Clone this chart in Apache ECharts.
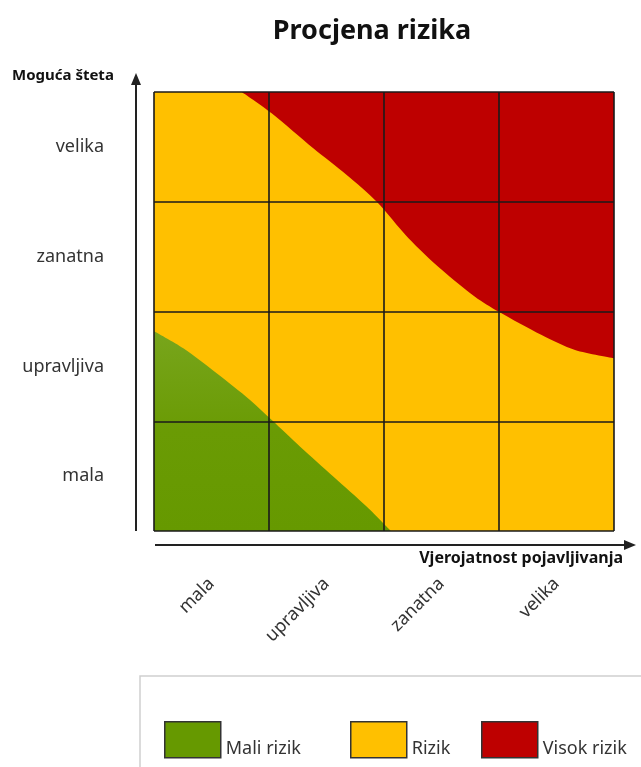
<!DOCTYPE html>
<html>
<head>
<meta charset="utf-8">
<script src="https://cdn.jsdelivr.net/npm/echarts@6/dist/echarts.min.js"></script>
<style>
html,body{margin:0;padding:0;background:#fff;}
#chart{width:641px;height:767px;}
</style>
</head>
<body>
<div id="chart"></div>
<script>
// ---- data ----
const xLabels = ['mala', 'upravljiva', 'zanatna', 'velika'];
const yLabels = ['mala', 'upravljiva', 'zanatna', 'velika'];
const titleText = 'Procjena rizika';
const xName = 'Vjerojatnost pojavljivanja';
const yName = 'Moguća šteta';
const legendNames = ['Mali rizik', 'Rizik', 'Visok rizik'];
// boundary of the low-risk (green) zone, area below the curve
const lowRiskCurve = [[0, 1.82], [0.255, 1.665], [0.545, 1.437], [0.835, 1.194], [1.024, 1.011], [1.271, 0.768], [1.561, 0.495], [1.851, 0.221], [2.06, 0]];
// boundary of the high-risk (red) zone, area above the curve
const highRiskCurve = [[0.763, 4], [1.023, 3.806], [1.385, 3.487], [1.676, 3.244], [1.937, 3.0], [2.211, 2.67], [2.502, 2.38], [2.791, 2.135], [2.994, 2.0], [3.371, 1.786], [3.661, 1.65], [4, 1.575]];
// whole matrix (risk / yellow zone)
const fullArea = [[0, 4], [4, 4]];

const GREEN = '#669900', YELLOW = '#FFC000', RED = '#BE0000';
const FONT = 'Noto Sans';

const chart = echarts.init(document.getElementById('chart'), null, {renderer: 'canvas'});

const legendLeft = [164, 350, 481];
const legendColors = [GREEN, YELLOW, RED];

const option = {
  backgroundColor: '#fff',
  animation: false,
  textStyle: {fontFamily: FONT},
  grid: {left: 154, right: 27, top: 92, bottom: 236, containLabel: false},
  xAxis: [
    {type: 'value', min: 0, max: 4, interval: 1, z: 5,
     axisLabel: {show: false}, axisTick: {show: false}, axisLine: {show: false},
     splitLine: {show: true, lineStyle: {color: '#1a1a1a', width: 1.6}}},
    {type: 'category', data: xLabels, position: 'bottom', z: 5,
     axisLine: {show: false}, axisTick: {show: false}, splitLine: {show: false},
     axisLabel: {rotate: 45, margin: 50, fontSize: 18, color: '#333', fontFamily: FONT}}
  ],
  yAxis: [
    {type: 'value', min: 0, max: 4, interval: 1, z: 5,
     axisLabel: {show: false}, axisTick: {show: false}, axisLine: {show: false},
     splitLine: {show: true, lineStyle: {color: '#1a1a1a', width: 1.6}}},
    {type: 'category', data: yLabels, position: 'left', z: 5,
     axisLine: {show: false}, axisTick: {show: false}, splitLine: {show: false},
     axisLabel: {margin: 50, fontSize: 18, color: '#333', fontFamily: FONT, align: 'right'}}
  ],
  legend: legendNames.map((n, i) => ({
    data: [{name: n, icon: 'rect', itemStyle: {color: legendColors[i], borderColor: '#333', borderWidth: 1.5}}],
    left: legendLeft[i], top: 721, padding: 0,
    itemWidth: 56, itemHeight: 36, itemGap: 0, selectedMode: false,
    formatter: '{t|{name}}',
    textStyle: {fontSize: 18, color: '#333', fontFamily: FONT,
      rich: {t: {fontSize: 18, color: '#333', fontFamily: FONT, padding: [18, 0, 0, 0]}}}
  })),
  graphic: [
    {type: 'text', x: 372, y: 31, style: {text: titleText, fill: '#111', font: 'bold 27px "Noto Sans"', textAlign: 'center', textVerticalAlign: 'middle'}, silent: true},
    {type: 'text', x: 12, y: 76, style: {text: yName, fill: '#111', font: 'bold 15px "Noto Sans"', textAlign: 'left', textVerticalAlign: 'middle'}, silent: true},
    {type: 'text', x: 623, y: 558, style: {text: xName, fill: '#111', font: 'bold 16px "Noto Sans"', textAlign: 'right', textVerticalAlign: 'middle'}, silent: true},
    {type: 'line', shape: {x1: 136, y1: 531, x2: 136, y2: 82}, style: {stroke: '#222', lineWidth: 2}, silent: true},
    {type: 'polygon', shape: {points: [[136, 73], [131, 85], [141, 85]]}, style: {fill: '#222'}, silent: true},
    {type: 'line', shape: {x1: 155, y1: 545, x2: 626, y2: 545}, style: {stroke: '#222', lineWidth: 2}, silent: true},
    {type: 'polygon', shape: {points: [[636, 545], [624, 540], [624, 550]]}, style: {fill: '#222'}, silent: true},
    {type: 'rect', shape: {x: 140, y: 676, width: 530, height: 120}, style: {fill: 'none', stroke: '#cfcfcf', lineWidth: 1.5}, silent: true}
  ],
  series: [
    {name: legendNames[1], type: 'line', data: fullArea, xAxisIndex: 0, yAxisIndex: 0,
     symbol: 'none', color: YELLOW, lineStyle: {width: 0}, silent: true,
     areaStyle: {color: YELLOW, opacity: 1, origin: 'start'}},
    {name: legendNames[0], type: 'line', data: lowRiskCurve, xAxisIndex: 0, yAxisIndex: 0,
     symbol: 'none', smooth: 0.3, color: GREEN, lineStyle: {width: 0}, silent: true,
     areaStyle: {opacity: 1, origin: 'start', color: {type: 'linear', x: 0, y: 0, x2: 0, y2: 1,
       colorStops: [{offset: 0, color: '#78a51c'}, {offset: 0.5, color: '#6a9b04'}, {offset: 1, color: GREEN}]}}},
    {name: legendNames[2], type: 'line', data: highRiskCurve, xAxisIndex: 0, yAxisIndex: 0,
     symbol: 'none', smooth: 0.3, color: RED, lineStyle: {width: 0}, silent: true,
     areaStyle: {color: RED, opacity: 1, origin: 'end'}}
  ]
};
chart.setOption(option);
</script>
</body>
</html>
